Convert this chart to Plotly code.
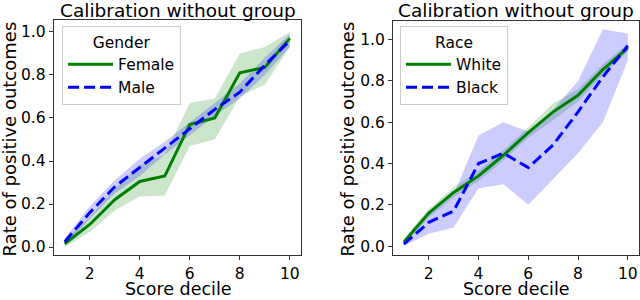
import plotly.graph_objects as go

deciles = [1, 2, 3, 4, 5, 6, 7, 8, 9, 10]

# Left panel: Gender
female = [0.015, 0.105, 0.22, 0.305, 0.33, 0.57, 0.60, 0.81, 0.835, 0.97]
female_lo = [0.00, 0.07, 0.17, 0.235, 0.24, 0.47, 0.50, 0.70, 0.755, 0.93]
female_hi = [0.03, 0.14, 0.27, 0.38, 0.43, 0.67, 0.69, 0.90, 0.93, 1.00]
male = [0.025, 0.16, 0.28, 0.37, 0.46, 0.55, 0.64, 0.72, 0.845, 0.96]
male_lo = [0.01, 0.13, 0.25, 0.33, 0.43, 0.52, 0.61, 0.69, 0.80, 0.93]
male_hi = [0.04, 0.19, 0.31, 0.41, 0.49, 0.58, 0.67, 0.76, 0.88, 0.99]

# Right panel: Race
white = [0.02, 0.16, 0.26, 0.34, 0.44, 0.55, 0.65, 0.73, 0.855, 0.96]
white_lo = [0.005, 0.14, 0.235, 0.315, 0.415, 0.525, 0.61, 0.70, 0.83, 0.94]
white_hi = [0.035, 0.18, 0.285, 0.365, 0.465, 0.575, 0.69, 0.76, 0.88, 0.98]
black = [0.01, 0.115, 0.17, 0.40, 0.45, 0.38, 0.49, 0.65, 0.82, 0.97]
black_lo = [0.0, 0.06, 0.09, 0.28, 0.30, 0.20, 0.325, 0.45, 0.60, 0.90]
black_hi = [0.02, 0.17, 0.25, 0.535, 0.60, 0.555, 0.66, 0.80, 1.05, 1.03]

xticks = [2, 4, 6, 8, 10]
yticks = [0.0, 0.2, 0.4, 0.6, 0.8, 1.0]

GREEN = "#008000"
BLUE = "#0000ff"
GREEN_FILL = "rgba(0,128,0,0.2)"
BLUE_FILL = "rgba(0,0,255,0.2)"
FONT = "DejaVu Sans"

fig = go.Figure()


def band(lo, hi, color, xa, ya):
    fig.add_trace(go.Scatter(
        x=deciles + deciles[::-1], y=hi + lo[::-1], fill="toself",
        fillcolor=color, line=dict(width=0), mode="lines", hoverinfo="skip",
        showlegend=False, xaxis=xa, yaxis=ya))


def line(y, name, color, dash, xa, ya, leg):
    fig.add_trace(go.Scatter(
        x=deciles, y=y, name=name, mode="lines",
        line=dict(color=color, width=3, dash=dash),
        xaxis=xa, yaxis=ya, legend=leg))


DASH = "11px,5px"
band(female_lo, female_hi, GREEN_FILL, "x", "y")
band(male_lo, male_hi, BLUE_FILL, "x", "y")
line(female, "Female", GREEN, "solid", "x", "y", "legend")
line(male, "Male", BLUE, DASH, "x", "y", "legend")

band(white_lo, white_hi, GREEN_FILL, "x2", "y2")
band(black_lo, black_hi, BLUE_FILL, "x2", "y2")
line(white, "White", GREEN, "solid", "x2", "y2", "legend2")
line(black, "Black", BLUE, DASH, "x2", "y2", "legend2")

axis_common = dict(showline=True, mirror=True, linecolor="#333333", linewidth=1,
                   ticks="outside", ticklen=4, tickcolor="#333333",
                   showgrid=False, zeroline=False,
                   tickfont=dict(family=FONT, size=15.5, color="black"))

legend_common = dict(xanchor="left", yanchor="top", bordercolor="#cccccc",
                     borderwidth=1, bgcolor="white", itemwidth=45,
                     font=dict(family=FONT, size=15.5))

fig.update_layout(
    width=640, height=300,
    margin=dict(l=0, r=0, t=0, b=0),
    plot_bgcolor="white", paper_bgcolor="white",
    font=dict(family=FONT, color="black"),
    xaxis=dict(domain=[0.084, 0.470], range=[0.56, 10.44], tickvals=xticks, anchor="y", **axis_common),
    yaxis=dict(domain=[0.15, 0.933], range=[-0.037, 1.055], tickvals=yticks, tickformat=".1f", anchor="x", **axis_common),
    xaxis2=dict(domain=[0.614, 0.998], range=[0.56, 10.44], tickvals=xticks, anchor="y2", **axis_common),
    yaxis2=dict(domain=[0.15, 0.93], range=[-0.043, 1.09], tickvals=yticks, tickformat=".1f", anchor="x2", **axis_common),
    legend=dict(x=0.097, y=0.912, title=dict(text="Gender", side="top center",
                                             font=dict(family=FONT, size=15.5)), **legend_common),
    legend2=dict(x=0.625, y=0.912, title=dict(text="Race", side="top center",
                                              font=dict(family=FONT, size=15.5)), **legend_common),
)

title_font = dict(family=FONT, size=18.5, color="black")
label_font = dict(family=FONT, size=18, color="black")
xlabel_font = dict(family=FONT, size=17.5, color="black")
for cx, cy, txt, ang, f in [
    (178 / 640, 0.965, "Calibration without group", 0, title_font),
    (516 / 640, 0.965, "Calibration without group", 0, title_font),
    (178 / 640, 0.0, "Score decile", 0, xlabel_font),
    (516 / 640, 0.0, "Score decile", 0, xlabel_font),
    (9 / 640, 0.535, "Rate of positive outcomes", -90, label_font),
    (347 / 640, 0.535, "Rate of positive outcomes", -90, label_font),
]:
    yanchor = "bottom" if txt == "Score decile" else "middle"
    fig.add_annotation(x=cx, y=cy, xref="paper", yref="paper", text=txt,
                       showarrow=False, textangle=ang, font=f,
                       xanchor="center", yanchor=yanchor, borderpad=0)

fig.write_html("out.html", config={"displayModeBar": False},
               post_script="document.body.style.margin='0';document.body.style.overflow='hidden';")
